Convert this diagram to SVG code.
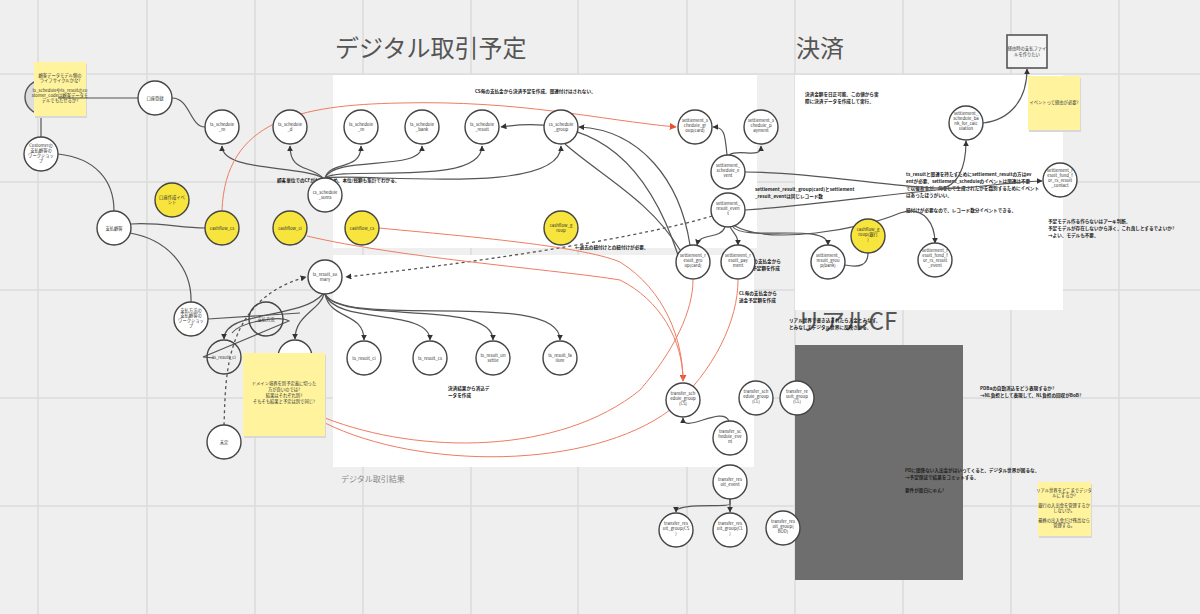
<svg xmlns="http://www.w3.org/2000/svg" width="1200" height="614" viewBox="0 0 1200 614">
<style>
text{font-family:"Noto Sans CJK JP","Noto Sans",sans-serif;}
.grid{stroke:#dcdcdc;stroke-width:1.5}
.panel{fill:#ffffff}
.nd{fill:#ffffff;stroke:#444;stroke-width:1.4}
.yl{fill:#f7e43c;stroke:#444;stroke-width:1.4}
.nt{font-size:4.3px;fill:#333;text-anchor:middle}
.c{fill:none;stroke:#555;stroke-width:1.2}
.r{fill:none;stroke:#ee7d62;stroke-width:1}
.d{fill:none;stroke:#555;stroke-width:1.3;stroke-dasharray:3 3}
.note{font-size:4.6px;fill:#222;font-weight:bold}
.sticky{fill:#fff39e}
.st{font-size:4.3px;fill:#333;text-anchor:middle}
.title{font-size:24px;fill:#555}
</style>
<defs>
<marker id="a" viewBox="0 0 10 10" refX="9" refY="5" markerWidth="6" markerHeight="6" orient="auto" markerUnits="userSpaceOnUse"><path d="M0,0 L10,5 L0,10 z" fill="#333"/></marker>
<marker id="ar" viewBox="0 0 10 10" refX="9" refY="5" markerWidth="7" markerHeight="7" orient="auto" markerUnits="userSpaceOnUse"><path d="M0,0 L10,5 L0,10 z" fill="#e8502f"/></marker>
</defs>
<rect width="1200" height="614" fill="#efefef"/>
<g id="grid">
<path class="grid" d="M38,0V614M147,0V614M255,0V614M363,0V614M471,0V614M578,0V614M687,0V614M795,0V614M903,0V614M1011,0V614M1119,0V614M0,74H1200M0,182H1200M0,290H1200M0,398H1200M0,506H1200"/>
</g>
<g id="panels">
<rect class="panel" x="333" y="75" width="424" height="173"/>
<rect class="panel" x="333" y="255" width="421" height="212"/>
<rect class="panel" x="795" y="75" width="268" height="235"/>
<rect x="795" y="345" width="168" height="235" fill="#6e6e6e"/>
</g>
<g id="titles">
<text class="title" x="335" y="57">デジタル取引予定</text>
<text class="title" x="796" y="57">決済</text>
<text class="title" x="797" y="330">リアルCF</text>
<text x="341" y="482" font-size="8" fill="#888">デジタル取引結果</text>
</g>
<g id="notes">
<text class="note" x="475" y="93">CS毎の支払金から決済予定を作成。関連付けはされない。</text>
<text class="note" x="277" y="182">顧客単位でのCFがわかるため、本位/総額も集計でわかる。</text>
<text class="note" x="805" y="96">決済金額を日正可能。この値から実</text>
<text class="note" x="805" y="103">際に決済データを作成して実行。</text>
<text class="note" x="755" y="191">settlement_result_group(card)とsettlement</text>
<text class="note" x="755" y="198">_result_eventは同じレコード数</text>
<text class="note" x="906" y="176">ts_resultと関連を持たすためにsettlement_resultの方はev</text>
<text class="note" x="906" y="183">entが必要。settlement_scheduleのイベントは関連は不要</text>
<text class="note" x="906" y="190">で以後あるが、何をして生成されたかを識別するためにイベント</text>
<text class="note" x="906" y="197">はあったほうがいい。</text>
<text class="note" x="906" y="212">紐付けが必要なので、レコード数分イベントできる。</text>
<text class="note" x="1048" y="223">予定モデル作る作らないはアーキ判断。</text>
<text class="note" x="1048" y="230">予定モデルが存在しないから浮く。これ良しとするでよいか?</text>
<text class="note" x="1048" y="237">→よい。モデルも不要。</text>
<text class="note" x="575" y="249">←過去の紐付けとの紐付けが必要。</text>
<text class="note" x="743" y="263">CS毎の支払金から</text>
<text class="note" x="743" y="270">送金予定額を作成</text>
<text class="note" x="739" y="295">CL毎の支払金から</text>
<text class="note" x="739" y="302">送金予定額を作成</text>
<text class="note" x="789" y="322" fill="#e8502f">リアル世界で書き込まれたら入金とみなす。</text>
<text class="note" x="789" y="329" fill="#e8502f">とみなしてデジタル世界に反映させる。</text>
<text class="note" x="448" y="390">決済結果から消込デ</text>
<text class="note" x="448" y="397">ータを作成</text>
<text class="note" x="980" y="390">PDBaの自動消込をどう表現するか?</text>
<text class="note" x="980" y="397" font-weight="normal">→NL負担として表現して、NL負担の回収がBoB?</text>
<text class="note" x="905" y="472">PDに関係ない入出金がはいってくると、デジタル世界が困るな。</text>
<text class="note" x="905" y="479" font-weight="normal">→予定保証で結果をコミットする。</text>
<text class="note" x="905" y="492" font-weight="normal">要件が面白にゃん?</text>
</g>
<g id="connectors">
<path class="c" d="M41,114 L41,137"/>
<path class="c" d="M172,98 C190,98 190,127 205,127"/>
<path class="c" d="M58,154 C95,158 114,180 114,211"/>
<path class="c" d="M131,224 C160,222 180,228 205,228"/>
<path class="c" d="M130,233 C170,240 192,270 191,302"/>
<path class="c" d="M208,319 L300,313"/>
<path class="c" d="M232,333 C240,322 280,315 289,321 L203,357 L214,358"/>
<path class="c" marker-end="url(#a)" d="M323,178 C300,165 222,172 222,146"/>
<path class="c" marker-end="url(#a)" d="M323,178 C310,165 290,172 290,146"/>
<path class="c" marker-end="url(#a)" d="M325,178 C330,160 361,172 361,146"/>
<path class="c" marker-end="url(#a)" d="M325,178 C335,155 422,172 422,146"/>
<path class="c" marker-end="url(#a)" d="M325,178 C340,165 482,188 482,146"/>
<path class="c" marker-end="url(#a)" d="M325,178 C360,172 561,198 561,146"/>
<path class="c" marker-end="url(#a)" d="M323,294 C300,320 224,310 224,339"/>
<path class="c" marker-end="url(#a)" d="M324,294 C320,310 295,315 295,339"/>
<path class="c" marker-end="url(#a)" d="M325,294 C330,320 364,312 364,340"/>
<path class="c" marker-end="url(#a)" d="M325,294 C335,325 430,308 430,340"/>
<path class="c" marker-end="url(#a)" d="M325,294 C340,325 493,298 493,340"/>
<path class="c" marker-end="url(#a)" d="M325,294 C345,330 560,288 560,340"/>
<path class="c" marker-end="url(#a)" d="M727,155 C725,135 725,127 713,127"/>
<path class="c" marker-end="url(#a)" d="M729,155 C740,148 761,160 761,146"/>
<path class="c" d="M745,172 C820,172 900,190 960,188"/>
<path class="c" d="M745,210 C820,205 900,192 960,188"/>
<path class="c" marker-end="url(#a)" d="M960,188 C990,186 1020,181 1042,181"/>
<path class="c" marker-end="url(#a)" d="M940,189 C960,185 966,165 966,141"/>
<path class="c" marker-end="url(#a)" d="M983,123 C1010,120 1027,100 1027,69"/>
<path class="c" marker-end="url(#a)" d="M725,227 C720,240 700,232 697,245"/>
<path class="c" marker-end="url(#a)" d="M730,227 C735,235 738,236 738,245"/>
<path class="c" marker-end="url(#a)" d="M733,227 C745,242 828,222 828,245"/>
<path class="c" marker-end="url(#a)" d="M735,226 C770,245 860,230 900,213 C925,205 935,225 935,243"/>
<path class="c" d="M868,253 C868,265 860,268 845,265"/>
<path class="c" marker-end="url(#a)" d="M690,245 C680,180 640,130 579,127"/>
<path class="c" marker-end="url(#a)" d="M678,255 C650,170 600,112 501,127"/>
<path class="c" d="M565,144 C600,175 650,200 680,250"/>
<path class="d" marker-end="url(#a)" d="M712,216 C650,235 500,260 346,277"/>
<path class="d" marker-end="url(#a)" d="M224,425 C226,380 222,300 306,277"/>
<path class="r" marker-end="url(#ar)" d="M222,211 C225,120 300,105 400,103 C520,100 600,120 676,127"/>
<path class="r" marker-end="url(#ar)" d="M307,236 C400,258 560,270 620,280 C660,300 683,340 683,381"/>
<path class="r" d="M379,228 C450,235 580,245 620,262 C665,290 683,340 683,381"/>
<path class="r" d="M325,418 C420,455 560,455 640,390 C675,350 693,310 693,280"/>
<path class="r" d="M325,423 C420,470 590,470 670,410 C715,370 738,320 738,280"/>
<path class="c" marker-end="url(#a)" d="M729,421 C722,405 683,435 683,418"/>
<path class="c" marker-end="url(#a)" d="M730,499 L730,504 C730,508 676,502 676,512"/>
<path class="c" marker-end="url(#a)" d="M730,499 L730,512"/>
</g>
<g id="n1"><circle cx="42" cy="97" r="17" fill="#dddddd" stroke="#555" stroke-width="1.4"/></g>
<g id="sticky1"><rect x="35" y="64" width="52" height="54" fill="#d8d8d8"/><rect class="sticky" x="34" y="62" width="52" height="54"/>
<text class="st" x="60" y="77">顧客データモデル側の</text><text class="st" x="60" y="82">ライフサイクルかな?</text>
<text class="st" x="60" y="92">ts_scheduleやts_resultのcu</text><text class="st" x="60" y="97">stomer_codeは顧客データモ</text><text class="st" x="60" y="102">デルでもたせるか?</text></g>
<path class="c" d="M58,98 L138,98"/>
<g id="n2"><circle class="nd" cx="155" cy="98" r="17"/><text class="nt" x="155" y="100">口座登録</text></g>
<g id="n3"><circle class="nd" cx="222" cy="127" r="17"/><text class="nt" x="222" y="126">ts_schedule</text><text class="nt" x="222" y="131">_m</text></g>
<g id="n4"><circle class="nd" cx="290" cy="127" r="17"/><text class="nt" x="290" y="126">ts_schedule</text><text class="nt" x="290" y="131">_d</text></g>
<g id="n5"><circle class="nd" cx="41" cy="154" r="17"/><text class="nt" x="41" y="147">Customerの</text><text class="nt" x="41" y="152">支払顧客の</text><text class="nt" x="41" y="157">ワークショッ</text><text class="nt" x="41" y="162">プ</text></g>
<g id="n6"><circle class="nd" cx="114" cy="228" r="17"/><text class="nt" x="114" y="230">支払顧客</text></g>
<g id="n7"><circle class="yl" cx="172" cy="200" r="17"/><text class="nt" x="172" y="199">口座作成イベ</text><text class="nt" x="172" y="204">ント</text></g>
<g id="n8"><circle class="yl" cx="222" cy="228" r="17"/><text class="nt" x="222" y="230">cashflow_cs</text></g>
<g id="n9"><circle class="yl" cx="290" cy="228" r="17"/><text class="nt" x="290" y="230">cashflow_cl</text></g>
<g id="n10"><circle class="yl" cx="362" cy="228" r="17"/><text class="nt" x="362" y="230">cashflow_cs</text></g>
<g id="n11"><circle class="yl" cx="561" cy="228" r="17"/><text class="nt" x="561" y="227">cashflow_g</text><text class="nt" x="561" y="232">roup</text></g>
<g id="n12"><circle class="nd" cx="361" cy="127" r="17"/><text class="nt" x="361" y="126">ts_schedule</text><text class="nt" x="361" y="131">_m</text></g>
<g id="n13"><circle class="nd" cx="422" cy="127" r="17"/><text class="nt" x="422" y="126">ts_schedule</text><text class="nt" x="422" y="131">_bank</text></g>
<g id="n14"><circle class="nd" cx="482" cy="127" r="17"/><text class="nt" x="482" y="126">ts_schedule</text><text class="nt" x="482" y="131">_result</text></g>
<g id="n15"><circle class="nd" cx="561" cy="127" r="17"/><text class="nt" x="561" y="126">cs_schedule</text><text class="nt" x="561" y="131">_group</text></g>
<g id="n16"><circle class="nd" cx="325" cy="195" r="17"/><text class="nt" x="325" y="194">cs_schedule</text><text class="nt" x="325" y="199">_sums</text></g>
<g id="n17"><circle class="nd" cx="695" cy="127" r="17"/><text class="nt" x="695" y="122">settlement_s</text><text class="nt" x="695" y="127">chedule_gr</text><text class="nt" x="695" y="132">oup(card)</text></g>
<g id="n18"><circle class="nd" cx="761" cy="127" r="17"/><text class="nt" x="761" y="122">settlement_s</text><text class="nt" x="761" y="127">chedule_p</text><text class="nt" x="761" y="132">ayment</text></g>
<g id="n19"><circle class="nd" cx="728" cy="172" r="17"/><text class="nt" x="728" y="167">settlement_</text><text class="nt" x="728" y="172">schedule_e</text><text class="nt" x="728" y="177">vent</text></g>
<g id="n20"><circle class="nd" cx="728" cy="210" r="17"/><text class="nt" x="728" y="205">settlement_</text><text class="nt" x="728" y="210">result_even</text><text class="nt" x="728" y="215">t</text></g>
<g id="n21"><circle class="nd" cx="966" cy="123" r="17"/><text class="nt" x="966" y="115">settlement_</text><text class="nt" x="966" y="120">schedule_ba</text><text class="nt" x="966" y="125">nk_for_calc</text><text class="nt" x="966" y="130">ulation</text></g>
<g id="n22"><circle class="nd" cx="1060" cy="180" r="17"/><text class="nt" x="1060" y="172">settlement_r</text><text class="nt" x="1060" y="177">esult_fund_f</text><text class="nt" x="1060" y="182">or_rs_result</text><text class="nt" x="1060" y="187">_contact</text></g>
<g id="n23"><circle class="nd" cx="693" cy="262" r="17"/><text class="nt" x="693" y="257">settlement_r</text><text class="nt" x="693" y="262">esult_gro</text><text class="nt" x="693" y="267">up(card)</text></g>
<g id="n24"><circle class="nd" cx="738" cy="262" r="17"/><text class="nt" x="738" y="257">settlement_r</text><text class="nt" x="738" y="262">esult_pay</text><text class="nt" x="738" y="267">ment</text></g>
<g id="n25"><circle class="nd" cx="828" cy="262" r="17"/><text class="nt" x="828" y="257">settlement_</text><text class="nt" x="828" y="262">result_grou</text><text class="nt" x="828" y="267">p(bank)</text></g>
<g id="n26"><circle class="yl" cx="868" cy="236" r="17"/><text class="nt" x="868" y="231">cashflow_g</text><text class="nt" x="868" y="236">roup(銀行</text><text class="nt" x="868" y="241">)</text></g>
<g id="n27"><circle class="nd" cx="935" cy="260" r="17"/><text class="nt" x="935" y="252">settlement_r</text><text class="nt" x="935" y="257">esult_fund_f</text><text class="nt" x="935" y="262">or_rs_result</text><text class="nt" x="935" y="267">_event</text></g>
<g id="n28"><circle class="nd" cx="325" cy="277" r="17"/><text class="nt" x="325" y="276">ts_result_su</text><text class="nt" x="325" y="281">mary</text></g>
<g id="n29"><circle class="nd" cx="191" cy="319" r="17"/><text class="nt" x="191" y="312">支払方法の</text><text class="nt" x="191" y="317">支払顧客の</text><text class="nt" x="191" y="322">ワークショッ</text><text class="nt" x="191" y="327">プ</text></g>
<g id="n30"><circle class="nd" cx="266" cy="319" r="17" fill-opacity="0"/><text class="nt" x="266" y="321">支払方法</text></g>
<g id="n31"><circle class="nd" cx="224" cy="357" r="17" fill-opacity="0"/><text class="nt" x="224" y="359">ts_result_cl</text></g>
<g id="n32"><circle class="nd" cx="295" cy="357" r="17"/><text class="nt" x="295" y="359">ts_result_cs</text></g>
<g id="n33"><circle class="nd" cx="364" cy="358" r="17"/><text class="nt" x="364" y="360">ts_result_cl</text></g>
<g id="n34"><circle class="nd" cx="430" cy="358" r="17"/><text class="nt" x="430" y="360">ts_result_cs</text></g>
<g id="n35"><circle class="nd" cx="493" cy="358" r="17"/><text class="nt" x="493" y="357">ts_result_un</text><text class="nt" x="493" y="362">settle</text></g>
<g id="n36"><circle class="nd" cx="560" cy="358" r="17"/><text class="nt" x="560" y="357">ts_result_fa</text><text class="nt" x="560" y="362">ilure</text></g>
<g id="n37"><circle class="nd" cx="224" cy="442" r="17"/><text class="nt" x="224" y="444" fill="#e8502f">未定</text></g>
<g id="sticky2"><rect x="244" y="355" width="82" height="83" fill="#d8d8d8"/><rect class="sticky" x="243" y="353" width="82" height="83"/>
<text class="st" x="284" y="385">ドメイン境界を別予定義に切った</text><text class="st" x="284" y="391">方が良いのでは?</text><text class="st" x="284" y="397">結果はそれぞれ別?</text><text class="st" x="284" y="403">そもそも結果と予定は別で同じ?</text></g>
<g id="n38"><circle class="nd" cx="683" cy="400" r="17"/><text class="nt" x="683" y="395">transfer_sch</text><text class="nt" x="683" y="400">edule_group</text><text class="nt" x="683" y="405">(CS)</text></g>
<g id="n39"><circle class="nd" cx="756" cy="398" r="17"/><text class="nt" x="756" y="393">transfer_sch</text><text class="nt" x="756" y="398">edule_group</text><text class="nt" x="756" y="403">(CL)</text></g>
<g id="n40"><circle class="nd" cx="797" cy="398" r="17"/><text class="nt" x="797" y="393">transfer_re</text><text class="nt" x="797" y="398">sult_group</text><text class="nt" x="797" y="403">(CL)</text></g>
<g id="n41"><circle class="nd" cx="730" cy="438" r="17"/><text class="nt" x="730" y="433">transfer_sc</text><text class="nt" x="730" y="438">hedule_eve</text><text class="nt" x="730" y="443">nt</text></g>
<g id="n42"><circle class="nd" cx="730" cy="482" r="17"/><text class="nt" x="730" y="481">transfer_res</text><text class="nt" x="730" y="486">ult_event</text></g>
<g id="n43"><circle class="nd" cx="676" cy="530" r="17"/><text class="nt" x="676" y="525">transfer_res</text><text class="nt" x="676" y="530">ult_group(CS</text><text class="nt" x="676" y="535">)</text></g>
<g id="n44"><circle class="nd" cx="730" cy="530" r="17"/><text class="nt" x="730" y="525">transfer_res</text><text class="nt" x="730" y="530">ult_group(CL</text><text class="nt" x="730" y="535">)</text></g>
<g id="n45"><circle class="nd" cx="783" cy="528" r="17"/><text class="nt" x="783" y="523">transfer_res</text><text class="nt" x="783" y="528">ult_group(</text><text class="nt" x="783" y="533">BOD)</text></g>
<g id="box1"><rect x="1007" y="35" width="40" height="33" fill="#f4f4f4" stroke="#555" stroke-width="1.6"/><text class="nt" x="1027" y="50">経由時の支払ファイ</text><text class="nt" x="1027" y="56">ルを作りたい</text></g>
<g id="sticky3"><rect x="1029" y="78" width="52" height="54" fill="#d8d8d8"/><rect class="sticky" x="1028" y="76" width="52" height="54"/><text class="st" x="1054" y="104">イベントって経由が必要?</text></g>
<g id="sticky4"><rect x="1039" y="484" width="53" height="54" fill="#d8d8d8"/><rect class="sticky" x="1038" y="482" width="53" height="54"/>
<text class="st" x="1064" y="492">リアル世界をどこまでデジタ</text><text class="st" x="1064" y="497">ルにするか?</text>
<text class="st" x="1064" y="507">銀行の入出金を管理するか</text><text class="st" x="1064" y="512">しないか。</text>
<text class="st" x="1064" y="522">最終の出入金だけ残高なら</text><text class="st" x="1064" y="527">管理する。</text></g>
</svg>
